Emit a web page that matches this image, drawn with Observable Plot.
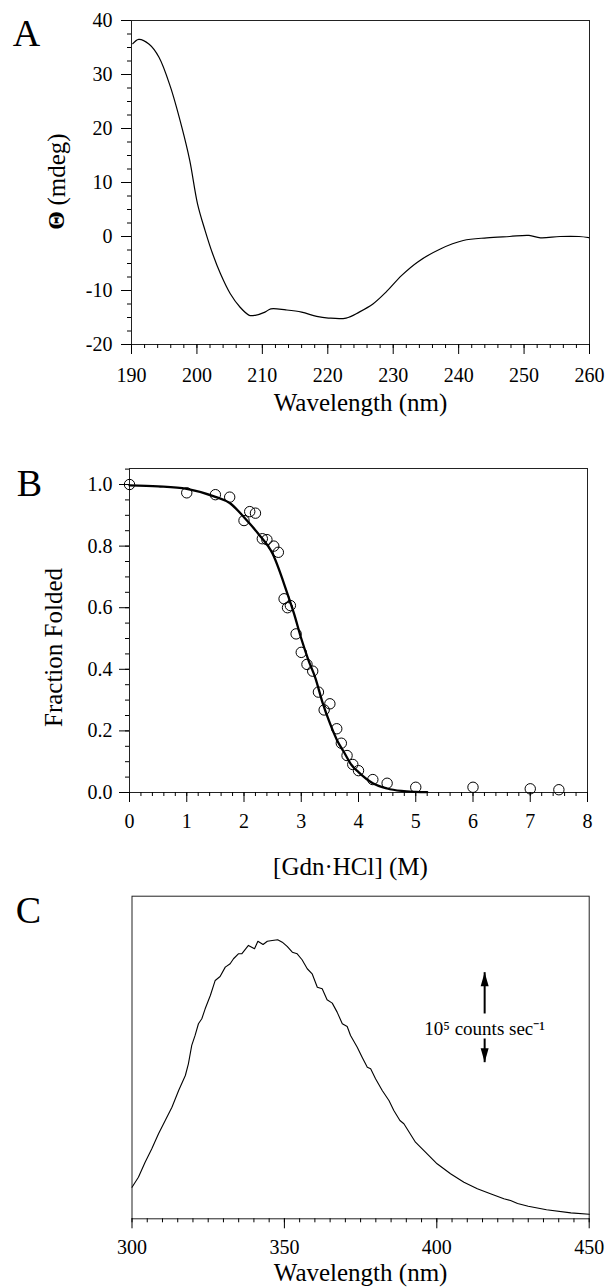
<!DOCTYPE html>
<html><head><meta charset="utf-8">
<script src="https://cdn.jsdelivr.net/npm/d3@7"></script>
<script src="https://cdn.jsdelivr.net/npm/@observablehq/plot@0.6"></script>
<style>
html,body{margin:0;padding:0;background:#fff;}
#wrap{position:relative;width:605px;height:1287px;overflow:hidden;background:#fff;}
#wrap > svg{position:absolute;left:0;}
#wrap text{font-family:"Liberation Serif","Times New Roman",serif;}
</style></head><body><div id="wrap"></div>
<script>
const FONT = "Liberation Serif";

// ---------- Panel A: CD spectrum ----------
const cdWavelength = [190.2, 191.1, 192.7, 194.2, 195.95, 197.7, 198.9, 200.1, 201.25, 202.4, 203.6, 205.1, 206.6, 208.0, 208.9, 210.4, 211.3, 213.6, 216.0, 218.3, 220.1, 222.8, 224.8, 226.9, 228.9, 231.3, 233.7, 237.2, 240.7, 244.3, 247.8, 250.75, 252.5, 255.5, 258.4, 259.9];
const cdEllipticity = [35.7, 36.5, 35.6, 33.2, 27.7, 20.2, 14.1, 6.0, 1.1, -3.2, -6.9, -10.6, -13.1, -14.6, -14.6, -14.0, -13.4, -13.6, -14.0, -14.8, -15.1, -15.1, -14.0, -12.5, -10.3, -7.2, -4.75, -2.3, -0.74, -0.25, 0.0, 0.2, -0.25, 0.0, 0.0, -0.2];
const aXTicks = [190, 200, 210, 220, 230, 240, 250, 260];
const aYTicks = [-20, -10, 0, 10, 20, 30, 40];

// ---------- Panel B: Gdn·HCl denaturation ----------
const gdnConc = [0, 1.0, 1.5, 1.75, 2.0, 2.1, 2.2, 2.32, 2.4, 2.52, 2.6, 2.7, 2.76, 2.81, 2.91, 3.0, 3.1, 3.2, 3.3, 3.4, 3.5, 3.62, 3.7, 3.8, 3.9, 4.0, 4.25, 4.5, 5.0, 6.0, 7.0, 7.5];
const fracFolded = [1.0, 0.973, 0.967, 0.959, 0.883, 0.912, 0.907, 0.824, 0.821, 0.80, 0.78, 0.629, 0.60, 0.607, 0.515, 0.455, 0.416, 0.394, 0.326, 0.268, 0.288, 0.207, 0.160, 0.12, 0.091, 0.071, 0.042, 0.030, 0.017, 0.017, 0.012, 0.009];
const fitConc = [0, 0.5, 1.0, 1.5, 1.75, 2.0, 2.25, 2.5, 2.75, 2.875, 3.0, 3.125, 3.25, 3.375, 3.5, 3.625, 3.75, 3.875, 4.0, 4.25, 4.5, 4.75, 5.0, 5.2];
const fitFrac = [0.997, 0.994, 0.986, 0.96, 0.94, 0.894, 0.84, 0.775, 0.65, 0.58, 0.50, 0.43, 0.37, 0.29, 0.225, 0.17, 0.13, 0.09, 0.066, 0.03, 0.013, 0.005, 0.002, 0.001];
const bXTicks = [0, 1, 2, 3, 4, 5, 6, 7, 8];
const bYTicks = [0, 0.2, 0.4, 0.6, 0.8, 1.0];

// ---------- Panel C: fluorescence emission (units of 10^5 counts/s above baseline) ----------
const flWavelength = [300, 302.1, 304.3, 306.5, 308.7, 310.9, 313.1, 315.3, 317.5, 318.5, 319.6, 320.7, 321.8, 322.9, 324, 325.7, 327.3, 328.9, 330.6, 332.2, 333.3, 334.9, 336, 338.2, 340.2, 341.3, 343, 344.4, 346, 347.8, 349.3, 350.9, 352.6, 354.2, 355.8, 357.5, 359.1, 360.8, 362.4, 364, 365.7, 367.3, 369, 370.6, 371.7, 373.9, 375.5, 377.2, 378.3, 379.9, 382.1, 384.3, 385.9, 387.9, 389.2, 393, 395.7, 400.1, 404.5, 408.9, 413.3, 417.6, 422, 424.2, 426.5, 430, 436, 444, 450];
const flIntensity = [0.351, 0.462, 0.629, 0.778, 0.944, 1.092, 1.24, 1.426, 1.592, 1.722, 1.926, 2.037, 2.167, 2.222, 2.333, 2.481, 2.648, 2.692, 2.796, 2.833, 2.889, 2.944, 2.944, 3.037, 3.0, 3.084, 3.048, 3.084, 3.092, 3.1, 3.073, 3.026, 2.962, 2.944, 2.878, 2.778, 2.722, 2.573, 2.556, 2.433, 2.396, 2.296, 2.167, 2.137, 2.037, 1.907, 1.796, 1.684, 1.667, 1.556, 1.426, 1.314, 1.203, 1.092, 1.056, 0.851, 0.759, 0.611, 0.5, 0.407, 0.333, 0.278, 0.222, 0.203, 0.17, 0.14, 0.10, 0.066, 0.05];
const cXTicks = [300, 350, 400, 450];
const scaleBarLabel = "10\u2075 counts sec\u207B\u00B9";
const scaleBarX = 415.7;
const scaleBarTop = 2.74;      // one unit = 10^5 counts/s
const scaleBarBottom = 1.74;
const scaleBarLabelY = 2.114;
const scaleBarGapTop = 2.281;
const scaleBarGapBottom = 2.003;

const wrap = document.getElementById("wrap");
const baseStyle = {fontFamily: FONT, fontSize: "20px", color: "#000", background: "transparent", overflow: "visible"};
const label = (txt, o) => Plot.text([txt], {text: d => d, textAnchor: "middle", lineAnchor: "middle", fill: "#000", fontFamily: FONT, ...o});
const ax = (o) => ({label: null, fontFamily: FONT, fontSize: 20, stroke: "#000", ...o});
function place(svg, top) { svg.style.top = top + "px"; wrap.appendChild(svg); }

// Panel A
const cdData = cdWavelength.map((x, i) => ({x, y: cdEllipticity[i]}));
place(Plot.plot({
  width: 605, height: 420, marginTop: 20, marginBottom: 76, marginLeft: 131, marginRight: 16,
  style: baseStyle,
  x: {domain: [190, 260]}, y: {domain: [-20, 40]},
  marks: [
    Plot.frame({stroke: "#222", strokeWidth: 1}),
    Plot.axisX(ax({ticks: aXTicks, tickSize: 10, tickPadding: 13, tickFormat: d => String(d)})),
    Plot.axisX(ax({ticks: d3.range(190, 260.01, 2), tickSize: 4, text: null})),
    Plot.axisY(ax({ticks: aYTicks, tickSize: 10, tickPadding: 9, tickFormat: d => String(d)})),
    Plot.axisY(ax({ticks: d3.range(-20, 40.01, 2.5), tickSize: 4, text: null})),
    Plot.line(cdData, {x: "x", y: "y", stroke: "#000", strokeWidth: 1.2, curve: "catmull-rom"}),
    label("Wavelength (nm)", {frameAnchor: "bottom", dy: 58, fontSize: 25}),
    label("\u0398", {frameAnchor: "left", dx: -75.5, dy: 38, rotate: -90, fontSize: 24, fontWeight: "bold"}),
    label("(mdeg)", {frameAnchor: "left", dx: -74.7, dy: -13, rotate: -90, fontSize: 25}),
    label("A", {frameAnchor: "top-left", dx: -105, dy: 13.5, fontSize: 38})
  ]
}), 0);

// Panel B
const bPoints = gdnConc.map((x, i) => ({x, y: fracFolded[i]}));
const bFit = fitConc.map((x, i) => ({x, y: fitFrac[i]}));
place(Plot.plot({
  width: 605, height: 450, marginTop: 38, marginBottom: 88, marginLeft: 129, marginRight: 18,
  style: baseStyle,
  x: {domain: [0, 8]}, y: {domain: [0, 1.052]},
  marks: [
    Plot.frame({stroke: "#222", strokeWidth: 1}),
    Plot.axisX(ax({ticks: bXTicks, tickSize: 10, tickPadding: 11, tickFormat: d => String(d)})),
    Plot.axisX(ax({ticks: d3.range(0, 8.001, 0.2), tickSize: 4, text: null})),
    Plot.axisY(ax({ticks: bYTicks, tickSize: 10, tickPadding: 7, tickFormat: d => d.toFixed(1)})),
    Plot.axisY(ax({ticks: d3.range(0, 1.0501, 0.05), tickSize: 4, text: null})),
    Plot.line(bFit, {x: "x", y: "y", stroke: "#000", strokeWidth: 2.3, curve: "monotone-x"}),
    Plot.dot(bPoints, {x: "x", y: "y", r: 5.2, stroke: "#000", strokeWidth: 1, fill: "none"}),
    label("[Gdn\u00B7HCl] (M)", {frameAnchor: "bottom", dx: -8, dy: 74, fontSize: 25}),
    label("Fraction Folded", {frameAnchor: "left", dx: -75.3, dy: 17, rotate: -90, fontSize: 25}),
    label("B", {frameAnchor: "top-left", dx: -100, dy: 15, fontSize: 38})
  ]
}), 430);

// Panel C
const flData = flWavelength.map((x, i) => ({x, y: flIntensity[i]}));
place(Plot.plot({
  width: 605, height: 407, marginTop: 15.7, marginBottom: 68.7, marginLeft: 131.5, marginRight: 16.3,
  style: baseStyle,
  x: {domain: [300, 450]}, y: {domain: [0, 3.584], axis: null},
  marks: [
    Plot.frame({stroke: "#222", strokeWidth: 1}),
    Plot.axisX(ax({ticks: cXTicks, tickSize: 10, tickPadding: 10.7, tickFormat: d => String(d)})),
    Plot.axisX(ax({ticks: d3.range(300, 450.01, 5), tickSize: 4, text: null})),
    Plot.line(flData, {x: "x", y: "y", stroke: "#000", strokeWidth: 1.1}),
    Plot.link([{y1: scaleBarTop, y2: scaleBarGapTop}, {y1: scaleBarGapBottom, y2: scaleBarBottom}],
      {x1: () => scaleBarX, x2: () => scaleBarX, y1: "y1", y2: "y2", stroke: "#000", strokeWidth: 2}),
    Plot.vector([{y: scaleBarTop, r: 0}, {y: scaleBarBottom, r: 180}],
      {x: () => scaleBarX, y: "y", rotate: "r", length: 14, shape: "spike", r: 4, anchor: "end", fill: "#000", stroke: "none"}),
    Plot.text([scaleBarLabel], {x: () => scaleBarX, y: () => scaleBarLabelY, text: d => d, fontSize: 19, fontFamily: FONT, textAnchor: "middle", lineAnchor: "middle", fill: "#000"}),
    label("Wavelength (nm)", {frameAnchor: "bottom", dy: 54, fontSize: 25}),
    label("C", {frameAnchor: "top-left", dx: -103.5, dy: 14.3, fontSize: 38})
  ]
}), 880);
</script></body></html>
